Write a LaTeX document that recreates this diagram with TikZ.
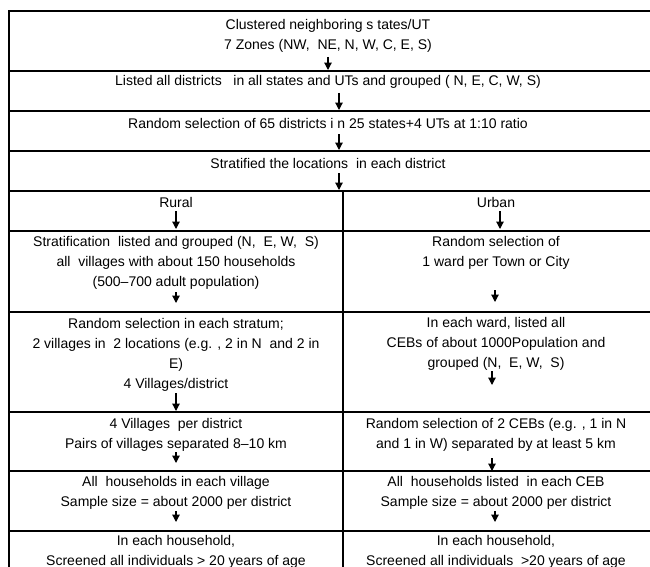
\documentclass[tikz,border=0pt]{standalone}
\usepackage{fontspec}
\setmainfont{Liberation Sans}
\usetikzlibrary{arrows.meta}
\begin{document}
\begin{tikzpicture}[x=0.75pt,y=-0.75pt,
  cell/.style={align=center, inner sep=0pt, font=\fontsize{10.5}{15}\selectfont},
  arr/.style={-{Triangle[length=5.5pt,width=5.5pt]}, line width=0.9pt},
  rule/.style={line width=0.8pt}]
\useasboundingbox (0,0) rectangle (650,567);
% grid
\draw[rule] (9,590) -- (9,11) -- (660,11);
\foreach \y in {71,111,151,191,231,312,412,471,531} \draw[rule] (9,\y) -- (660,\y);
\draw[rule] (343,191) -- (343,590);
% texts
\node[cell] (t1) at (328,36) {Clustered neighboring s tates/UT\\7 Zones (NW,\ \ NE, N, W, C, E, S)};
\node[cell] (t2) at (328,82) {Listed all districts\ \ \ in all states and UTs and grouped ( N, E, C, W, S)};
\node[cell] (t3) at (328,123) {Random selection of 65 districts i n 25 states+4 UTs at 1:10 ratio};
\node[cell] (t4) at (328,163) {Stratified the locations\ \ in each district};
\node[cell] (rural) at (176,202) {Rural};
\node[cell] (urban) at (496,202) {Urban};
\node[cell] (l6) at (176,263) {Stratification\ \ listed and grouped (N,\ \ E, W,\ \ S)\\all\ \ villages with about 150 households\\(500--700 adult population)};
\node[cell] (r6) at (496,253) {Random selection of\\1 ward per Town or City};
\node[cell] (l7) at (176,354.5) {Random selection in each stratum;\\2 villages in\ \ 2 locations (e.g. , 2 in N\ \ and 2 in\\E)\\4 Villages/district};
\node[cell] (r7) at (496,344) {In each ward, listed all\\CEBs of about 1000Population and\\grouped (N,\ \ E, W,\ \ S)};
\node[cell] (l8) at (176,434.5) {4 Villages\ \ per district\\Pairs of villages separated 8--10 km};
\node[cell] (r8) at (496,434.5) {Random selection\ of 2 CEBs (e.g. , 1 in N\\and 1 in W) separated by at least 5 km};
\node[cell] (l9) at (176,492.5) {All\ \ households in each village\\Sample size = about 2000 per district};
\node[cell] (r9) at (496,492.5) {All\ \ households listed\ \ in each CEB\\Sample size = about 2000 per district};
\node[cell] (l10) at (176,552) {In each household,\\Screened all individuals > 20 years of age};
\node[cell] (r10) at (496,552) {In each household,\\Screened all individuals\ \ >20 years of age};
% arrow end points
\coordinate (a1s) at (328,57);  \coordinate (a1e) at (328,70);
\coordinate (a2s) at (339,93);  \coordinate (a2e) at (339,110);
\coordinate (a3s) at (339,134); \coordinate (a3e) at (339,150);
\coordinate (a4s) at (339,173); \coordinate (a4e) at (339,190);
\coordinate (a5ls) at (176,211); \coordinate (a5le) at (176,229);
\coordinate (a5rs) at (500,211); \coordinate (a5re) at (500,229);
\coordinate (a6ls) at (176,292); \coordinate (a6le) at (176,303);
\coordinate (a6rs) at (495,290); \coordinate (a6re) at (495,302);
\coordinate (a7ls) at (176,393); \coordinate (a7le) at (176,411);
\coordinate (a7rs) at (492,371); \coordinate (a7re) at (492,385);
\coordinate (a8ls) at (176,452); \coordinate (a8le) at (176,463);
\coordinate (a8rs) at (492,458); \coordinate (a8re) at (492,471);
\coordinate (a9ls) at (176,511); \coordinate (a9le) at (176,522);
\coordinate (a9rs) at (495,511); \coordinate (a9re) at (495,522);
\foreach \s/\e in {a1s/a1e,a2s/a2e,a3s/a3e,a4s/a4e,a5ls/a5le,a5rs/a5re,a6ls/a6le,a6rs/a6re,a7ls/a7le,a7rs/a7re,a8ls/a8le,a8rs/a8re,a9ls/a9le,a9rs/a9re}
  \draw[arr] (\s) -- (\e);
\end{tikzpicture}
\end{document}
